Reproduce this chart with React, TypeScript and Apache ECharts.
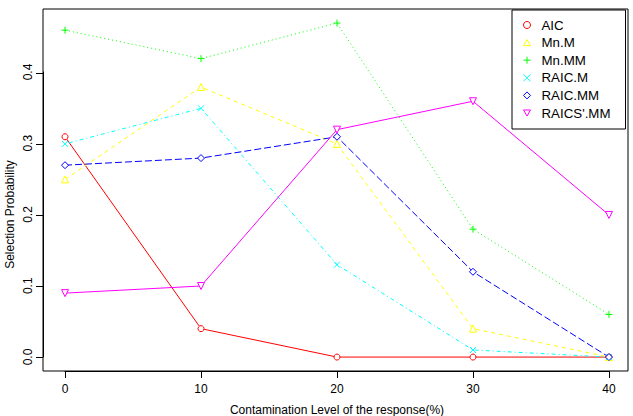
import React, { useEffect, useRef } from "react";
import * as echarts from "echarts";

const contamination = [0, 10, 20, 30, 40];
const seriesNames = ["AIC", "Mn.M", "Mn.MM", "RAIC.M", "RAIC.MM", "RAICS'.MM"];
const aic = [0.31, 0.04, 0.0, 0.0, 0.0];
const mnM = [0.25, 0.38, 0.3, 0.04, 0.0];
const mnMM = [0.46, 0.42, 0.47, 0.18, 0.06];
const raicM = [0.3, 0.35, 0.13, 0.01, 0.0];
const raicMM = [0.27, 0.28, 0.31, 0.12, 0.0];
const raicsMM = [0.09, 0.1, 0.32, 0.36, 0.2];
const xTicks = [0, 10, 20, 30, 40];
const yTicks = [0, 0.1, 0.2, 0.3, 0.4];

const values = [aic, mnM, mnMM, raicM, raicMM, raicsMM];
const colors = ["#FF0000", "#FFFF00", "#00FF00", "#00FFFF", "#0000FF", "#FF00FF"];
const dashes: any[] = ["solid", [4, 4], [1, 3], [1, 3, 4, 3], [7, 3], "solid"];
const symbols = [
  "circle",
  "path://M0,8.66L5,0L10,8.66Z",
  "path://M5,0L5,10M0,5L10,5",
  "path://M0,0L10,10M10,0L0,10",
  "diamond",
  "path://M0,0L10,0L5,8.66Z",
];
const sizes = [6, 7, 7, 6, 7, 7];

const X_MIN = -1.62;
const X_MAX = 41.4;
const Y_MIN = -0.0196;
const Y_MAX = 0.4898;

export default function App() {
  const ref = useRef<HTMLDivElement>(null);
  useEffect(() => {
    const chart = echarts.init(ref.current!, null, { renderer: "svg" });
    const font = "Liberation Sans, Arial, Helvetica, sans-serif";
    const tickLen = 7;
    chart.setOption({
      animation: false,
      backgroundColor: "#ffffff",
      textStyle: { fontFamily: font },
      grid: [
        {
          left: 43,
          right: 5,
          top: 9,
          bottom: 45,
          containLabel: false,
          outerBoundsMode: "none",
          show: true,
          borderColor: "#000",
          borderWidth: 1,
          backgroundColor: "transparent",
        },
        {
          left: 65,
          right: 24,
          top: 72,
          bottom: 59,
          containLabel: false,
          outerBoundsMode: "none",
          show: false,
        },
      ],
      legend: {
        orient: "vertical",
        left: 512,
        top: 10,
        padding: [8, 15, 9, 11],
        itemWidth: 7,
        itemHeight: 7,
        itemGap: 3.6,
        borderColor: "#000",
        borderWidth: 1,
        borderRadius: 0,
        backgroundColor: "#fff",
        textStyle: { fontSize: 13.3, lineHeight: 14, color: "#000", fontFamily: font, padding: [0, 0, 0, 6] },
        data: seriesNames.map((n, i) => ({
          name: n,
          icon: symbols[i],
          itemStyle: { color: "#fff", borderColor: colors[i], borderWidth: 1 },
        })),
      },
      xAxis: [
        { gridIndex: 0, type: "value", min: X_MIN, max: X_MAX, show: false },
        {
          gridIndex: 1,
          type: "value",
          min: xTicks[0],
          max: xTicks[xTicks.length - 1],
          interval: xTicks[1] - xTicks[0],
          position: "bottom",
          offset: 14,
          name: "Contamination Level of the response(%)",
          nameLocation: "middle",
          nameGap: 33,
          nameMoveOverlap: false,
          nameTextStyle: { fontSize: 12, color: "#000", fontFamily: font },
          axisLine: { show: true, onZero: false, lineStyle: { color: "#000", width: 1 } },
          splitLine: { show: false },
          axisTick: { show: false },
          axisLabel: { fontSize: 12, color: "#000", margin: 12, fontFamily: font },
        },
      ],
      yAxis: [
        { gridIndex: 0, type: "value", min: Y_MIN, max: Y_MAX, show: false },
        {
          gridIndex: 1,
          type: "value",
          min: yTicks[0],
          max: yTicks[yTicks.length - 1],
          interval: 0.1,
          position: "left",
          offset: 22,
          name: "Selection Probability",
          nameLocation: "middle",
          nameGap: 27,
          nameMoveOverlap: false,
          nameTextStyle: { fontSize: 12, color: "#000", fontFamily: font },
          axisLine: { show: true, onZero: false, lineStyle: { color: "#000", width: 1 } },
          splitLine: { show: false },
          axisTick: { show: false },
          axisLabel: {
            rotate: 90,
            fontSize: 12,
            color: "#000",
            margin: 9,
            fontFamily: font,
            formatter: (v: number) => v.toFixed(1),
          },
        },
      ],
      series: [
        ...seriesNames.map((n, i) => ({
          name: n,
          type: "line",
          xAxisIndex: 0,
          yAxisIndex: 0,
          data: contamination.map((x, j) => [x, values[i][j]]),
          symbol: symbols[i],
          symbolSize: sizes[i],
          showSymbol: true,
          lineStyle: { color: colors[i], width: 1, type: dashes[i] },
          itemStyle: { color: "#fff", borderColor: colors[i], borderWidth: 1 },
          emphasis: { disabled: true },
        })),
        {
          name: "xticks",
          type: "custom",
          xAxisIndex: 0,
          yAxisIndex: 0,
          silent: true,
          clip: false,
          data: xTicks.map((v) => [v]),
          renderItem: (_p: any, api: any) => {
            const pt = api.coord([api.value(0), Y_MIN]);
            const x = Math.round(pt[0]) + 0.5;
            const y = Math.round(pt[1]);
            return {
              type: "line",
              shape: { x1: x, y1: y, x2: x, y2: y + tickLen },
              style: { stroke: "#000", lineWidth: 1 },
            };
          },
        },
        {
          name: "yticks",
          type: "custom",
          xAxisIndex: 0,
          yAxisIndex: 0,
          silent: true,
          clip: false,
          data: yTicks.map((v) => [X_MIN, v]),
          encode: { x: 0, y: 1 },
          renderItem: (_p: any, api: any) => {
            const pt = api.coord([X_MIN, api.value(1)]);
            const x = Math.round(pt[0]);
            const y = Math.round(pt[1]) + 0.5;
            return {
              type: "line",
              shape: { x1: x, y1: y, x2: x - tickLen, y2: y },
              style: { stroke: "#000", lineWidth: 1 },
            };
          },
        },
      ],
    });
    return () => chart.dispose();
  }, []);
  return <div ref={ref} style={{ position: "fixed", left: 0, top: 0, width: 633, height: 416 }} />;
}
